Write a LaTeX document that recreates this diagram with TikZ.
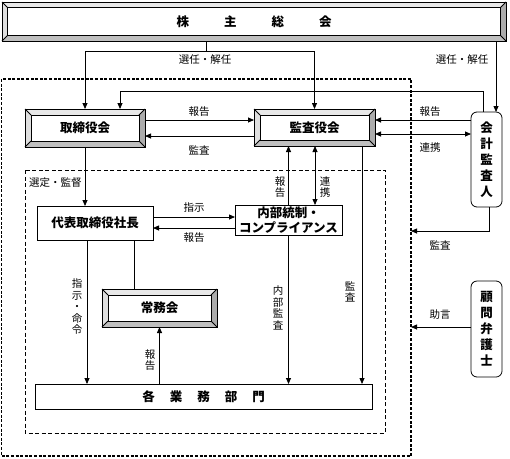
\documentclass[tikz,border=0pt]{standalone}
\usepackage{fontspec}
\setmainfont{Noto Sans CJK JP}
\usetikzlibrary{arrows.meta,calc}
\tikzset{
  every node/.style={inner sep=0pt, outer sep=0pt},
  lbl/.style={font=\fontsize{10.5}{12}\selectfont},
  vlbl/.style={font=\fontsize{10.5}{11.5}\selectfont, align=center},
  boxtxt/.style={font=\bfseries\fontsize{12.5}{15}\selectfont},
  bevbox/.style={draw, fill=white, boxtxt},
  plainbox/.style={draw, fill=white, boxtxt, align=center},
  rbox/.style={draw, fill=white, rounded corners=6pt, boxtxt, align=center, font=\bfseries\fontsize{12.5}{16}\selectfont},
  arr/.style={-{Triangle[length=6pt,width=5pt]}},
  dblarr/.style={{Triangle[length=6pt,width=5pt]}-{Triangle[length=6pt,width=5pt]}},
  outerdash/.style={dash pattern=on 3pt off 1.6pt, line width=1.1pt},
  innerdash/.style={dash pattern=on 4pt off 2.5pt, line width=0.9pt},
  bvT/.style={fill=gray!18},
  bvL/.style={fill=gray!25},
  bvB/.style={fill=gray!50},
  bvR/.style={fill=gray!65},
}
\newcommand\bevelize[2]{%
  \fill[bvT] (#1.north west) -- (#1.north east) -- ([shift={(-#2,-#2)}]#1.north east) -- ([shift={(#2,-#2)}]#1.north west) -- cycle;
  \fill[bvL] (#1.north west) -- ([shift={(#2,-#2)}]#1.north west) -- ([shift={(#2,#2)}]#1.south west) -- (#1.south west) -- cycle;
  \fill[bvB] (#1.south west) -- ([shift={(#2,#2)}]#1.south west) -- ([shift={(-#2,#2)}]#1.south east) -- (#1.south east) -- cycle;
  \fill[bvR] (#1.south east) -- ([shift={(-#2,#2)}]#1.south east) -- ([shift={(-#2,-#2)}]#1.north east) -- (#1.north east) -- cycle;
  \draw (#1.north west) rectangle (#1.south east);
  \draw ([shift={(#2,-#2)}]#1.north west) rectangle ([shift={(-#2,#2)}]#1.south east);
  \draw (#1.north west) -- ([shift={(#2,-#2)}]#1.north west);
  \draw (#1.north east) -- ([shift={(-#2,-#2)}]#1.north east);
  \draw (#1.south west) -- ([shift={(#2,#2)}]#1.south west);
  \draw (#1.south east) -- ([shift={(-#2,#2)}]#1.south east);
}
\begin{document}
\begin{tikzpicture}[x=1pt,y=-1pt,line width=0.8pt]
\useasboundingbox[fill=white] (0,0) rectangle (510,458);
% dashed frames
\draw[outerdash] (1.5,79) rectangle (411,456);
\draw[innerdash] (25,170) rectangle (385,433);
% boxes
\node[bevbox, minimum width=504pt, minimum height=39pt] (kabu) at (254,21.5) {株\hspace{35pt}主\hspace{35pt}総\hspace{35pt}会};
\bevelize{kabu}{5.5pt}
\node[bevbox, minimum width=120pt, minimum height=38pt] (tori) at (85,128) {取締役会};
\bevelize{tori}{6pt}
\node[bevbox, minimum width=121pt, minimum height=37pt] (kansa) at (314.5,127.5) {監査役会};
\bevelize{kansa}{6pt}
\node[bevbox, minimum width=115pt, minimum height=38pt] (joumu) at (159.5,308) {常務会};
\bevelize{joumu}{6pt}
\node[plainbox, minimum width=116pt, minimum height=34pt] (daihyo) at (95,223) {代表取締役社長};
\node[plainbox, minimum width=107pt, minimum height=30pt] (naibu) at (288.5,220) {内部統制・\\コンプライアンス};
\node[plainbox, minimum width=337pt, minimum height=25pt] (kaku) at (203.5,396.5) {各\hspace{15pt}業\hspace{15pt}務\hspace{15pt}部\hspace{15pt}門};
\node[rbox, minimum width=31pt, minimum height=95pt] (kaikei) at (486.5,159.5) {会\\計\\監\\査\\人};
\node[rbox, minimum width=31pt, minimum height=96pt] (komon) at (486.5,329) {顧\\問\\弁\\護\\士};
% connectors
\coordinate (jA) at (206,51);
\draw (kabu.south -| jA) -- (jA);
\draw[arr] (jA) -| (tori.north);
\draw[arr] (jA) -| (kansa.north);
\coordinate (rx) at (496,0);
\draw[arr] (kabu.south -| rx) -- (kaikei.north -| rx);
\coordinate (ry) at (483,91);
\coordinate (tx) at (120,0);
\draw[arr] (kaikei.north -| ry) -- (ry) -| (tori.north -| tx);
\coordinate (t1) at ([yshift=8pt]tori.east);
\coordinate (t2) at ([yshift=-8pt]tori.east);
\draw[arr] (t1) -- (kansa.west |- t1);
\draw[arr] (kansa.west |- t2) -- (t2);
\coordinate (k1) at ([yshift=7.5pt]kansa.east);
\coordinate (k2) at ([yshift=-6.5pt]kansa.east);
\draw[arr] (kaikei.west |- k1) -- (k1);
\draw[dblarr] (k2) -- (kaikei.west |- k2);
\draw[arr] (tori.south) -- (tori.south |- daihyo.north);
\coordinate (d1) at ([yshift=6pt]daihyo.east);
\coordinate (d2) at ([yshift=-5pt]daihyo.east);
\draw[arr] (d1) -- (naibu.west |- d1);
\draw[arr] (naibu.west |- d2) -- (d2);
\draw[arr] (naibu.north) -- (kansa.south -| naibu.north);
\coordinate (c315) at (315,0);
\draw[dblarr] (kansa.south -| c315) -- (naibu.north -| c315);
\coordinate (c362) at (362,0);
\draw[arr] (kansa.south -| c362) -- (kaku.north -| c362);
\draw[arr] (naibu.south) -- (kaku.north -| naibu.south);
\coordinate (c87) at (87,0);
\draw[arr] (daihyo.south -| c87) -- (kaku.north -| c87);
\coordinate (c134) at (134,0);
\draw (daihyo.south -| c134) -- (joumu.north -| c134);
\draw[arr] (kaku.north -| joumu.south) -- (joumu.south);
\coordinate (kx) at (489,0);
\coordinate (kb) at (411,231);
\draw[arr] (kaikei.south -| kx) |- (kb);
\coordinate (kc) at (411,327);
\draw[arr] (komon.west |- kc) -- (kc);
% labels
\node[lbl] (L1) at (205,60) {選任・解任};
\node[lbl] (L2) at (462,60) {選任・解任};
\node[lbl] (L3) at (199,112) {報告};
\node[lbl] (L4) at (199,150) {監査};
\node[lbl] (L5) at (430,112) {報告};
\node[lbl] (L6) at (430,148) {連携};
\node[lbl, anchor=west] (L7) at (29,183) {選定・監督};
\node[lbl] (L8) at (194,208) {指示};
\node[lbl] (L9) at (194,238) {報告};
\node[vlbl] (L10) at (280,187) {報\\告};
\node[vlbl] (L11) at (325,187) {連\\携};
\node[vlbl] (L12) at (77,307) {指\\示\\・\\命\\令};
\node[vlbl] (L13) at (150,360) {報\\告};
\node[vlbl] (L14) at (278,308) {内\\部\\監\\査};
\node[vlbl] (L15) at (350,292) {監\\査};
\node[lbl] (L16) at (440,245) {監査};
\node[lbl] (L17) at (440,315) {助言};
\end{tikzpicture}
\end{document}
